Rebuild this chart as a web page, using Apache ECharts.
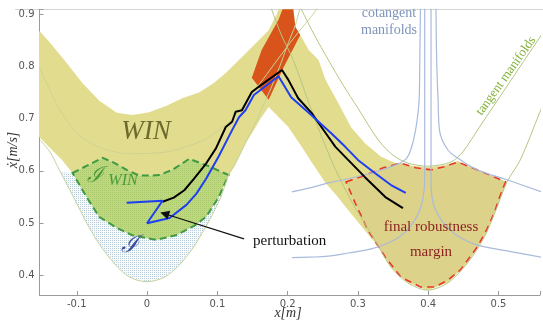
<!DOCTYPE html>
<html>
<head>
<meta charset="utf-8">
<script src="https://cdn.jsdelivr.net/npm/echarts@6/dist/echarts.min.js"></script>
<style>
  html, body { margin: 0; padding: 0; background: #fff; }
  #main { width: 543px; height: 325px; }
</style>
</head>
<body>
<div id="main"></div>
<script>
// tick labels
const xTicks = [-0.1, 0, 0.1, 0.2, 0.3, 0.4, 0.5];
const yTicks = [0.4, 0.5, 0.6, 0.7, 0.8, 0.9];

// regions, [x, xdot]
const winBand = [
  [-0.17, 0.875], [-0.152, 0.866], [-0.138, 0.845], [-0.114, 0.806], [-0.092, 0.768], [-0.068, 0.734],
  [-0.043, 0.711], [-0.021, 0.707], [0.003, 0.712], [0.027, 0.724], [0.050, 0.739], [0.074, 0.750],
  [0.095, 0.768], [0.112, 0.787], [0.135, 0.818], [0.159, 0.850], [0.173, 0.869], [0.184, 0.898], [0.191, 0.925],
  [0.207, 0.925], [0.211, 0.875], [0.218, 0.860], [0.230, 0.831], [0.244, 0.812], [0.254, 0.774], [0.272, 0.730],
  [0.290, 0.684], [0.310, 0.653], [0.333, 0.627], [0.353, 0.615], [0.371, 0.611], [0.399, 0.607], [0.423, 0.611],
  [0.442, 0.619], [0.477, 0.598], [0.512, 0.579],
  [0.498, 0.531], [0.480, 0.474], [0.456, 0.424], [0.428, 0.386], [0.399, 0.372], [0.371, 0.386], [0.347, 0.416],
  [0.329, 0.455], [0.307, 0.491], [0.286, 0.525], [0.269, 0.554], [0.254, 0.577], [0.237, 0.611], [0.220, 0.646],
  [0.201, 0.684], [0.187, 0.703], [0.173, 0.722],
  [0.162, 0.701], [0.152, 0.678], [0.140, 0.653], [0.131, 0.627], [0.124, 0.608], [0.116, 0.592],
  [0.102, 0.550], [0.084, 0.512], [0.067, 0.495], [0.041, 0.477], [0.013, 0.468], [-0.021, 0.477],
  [-0.043, 0.491], [-0.068, 0.512], [-0.086, 0.550], [-0.106, 0.596], [-0.121, 0.621], [-0.138, 0.644],
  [-0.152, 0.663], [-0.17, 0.68]
];
const iRegion = [
  [-0.124, 0.598], [-0.110, 0.564], [-0.096, 0.527], [-0.082, 0.491], [-0.068, 0.460], [-0.046, 0.422],
  [-0.025, 0.397], [0.0, 0.388], [0.025, 0.397], [0.046, 0.420], [0.067, 0.456], [0.088, 0.504],
  [0.105, 0.550], [0.116, 0.592],
  [0.088, 0.609], [0.060, 0.623], [0.036, 0.602], [0.017, 0.592], [0.003, 0.591], [-0.011, 0.591],
  [-0.029, 0.602], [-0.046, 0.615], [-0.063, 0.625], [-0.084, 0.611], [-0.106, 0.596]
];
const iWinRegion = [
  [-0.106, 0.596], [-0.084, 0.611], [-0.063, 0.625], [-0.046, 0.615], [-0.029, 0.602], [-0.011, 0.591],
  [0.003, 0.591], [0.017, 0.592], [0.036, 0.602], [0.060, 0.623], [0.088, 0.609], [0.116, 0.592],
  [0.102, 0.550], [0.084, 0.512], [0.067, 0.495], [0.041, 0.477], [0.013, 0.468], [-0.021, 0.477],
  [-0.043, 0.491], [-0.068, 0.512], [-0.086, 0.550]
];
const impactRegion = [
  [0.196, 0.921], [0.207, 0.921], [0.211, 0.875], [0.218, 0.860], [0.194, 0.797], [0.173, 0.736],
  [0.149, 0.778], [0.163, 0.831], [0.187, 0.889]
];
const finalMargin = [
  [0.283, 0.579], [0.307, 0.590], [0.336, 0.606], [0.361, 0.615], [0.382, 0.606], [0.404, 0.602],
  [0.423, 0.608], [0.442, 0.617], [0.477, 0.598], [0.510, 0.579], [0.501, 0.548], [0.494, 0.520],
  [0.483, 0.487], [0.470, 0.455], [0.446, 0.411], [0.428, 0.391], [0.409, 0.378], [0.389, 0.378],
  [0.361, 0.397], [0.339, 0.435], [0.314, 0.487], [0.296, 0.539]
];

// thin manifolds
const iBoundary = [
  [-0.152, 0.659], [-0.138, 0.636], [-0.124, 0.600], [-0.110, 0.564], [-0.096, 0.527], [-0.082, 0.491],
  [-0.068, 0.460], [-0.046, 0.422], [-0.025, 0.397], [0.0, 0.388], [0.025, 0.397], [0.046, 0.420],
  [0.067, 0.456], [0.088, 0.504], [0.105, 0.550], [0.116, 0.592], [0.126, 0.615], [0.140, 0.653],
  [0.155, 0.694], [0.167, 0.730], [0.180, 0.770], [0.191, 0.808], [0.201, 0.845], [0.211, 0.879],
  [0.217, 0.908], [0.220, 0.921]
];
const winGuide = [
  [-0.153, 0.799], [-0.124, 0.716], [-0.096, 0.668], [-0.068, 0.645], [-0.025, 0.633], [0.027, 0.636],
  [0.074, 0.655], [0.098, 0.674], [0.124, 0.703], [0.145, 0.740], [0.166, 0.777], [0.183, 0.808],
  [0.211, 0.858], [0.230, 0.889], [0.241, 0.908], [0.250, 0.925]
];
const lowTangent = [
  [0.174, 0.921], [0.191, 0.860], [0.208, 0.812], [0.234, 0.716], [0.262, 0.621], [0.290, 0.544],
  [0.324, 0.468], [0.347, 0.416], [0.371, 0.386], [0.399, 0.372], [0.428, 0.386], [0.456, 0.424],
  [0.480, 0.474], [0.498, 0.531], [0.512, 0.579], [0.531, 0.621], [0.559, 0.713], [0.569, 0.745]
];
const highTangent = [
  [0.215, 0.921], [0.238, 0.860], [0.258, 0.812], [0.279, 0.764], [0.300, 0.720], [0.329, 0.659],
  [0.350, 0.630], [0.371, 0.615], [0.399, 0.609], [0.423, 0.613], [0.435, 0.619], [0.449, 0.636],
  [0.474, 0.686], [0.512, 0.762], [0.559, 0.856], [0.576, 0.890]
];
const cotangent1 = [
  [0.389, 0.921], [0.388, 0.812], [0.387, 0.736], [0.382, 0.678], [0.375, 0.640], [0.367, 0.621],
  [0.347, 0.608], [0.319, 0.596], [0.286, 0.585], [0.258, 0.577], [0.230, 0.567], [0.206, 0.560]
];
const cotangent2 = [
  [0.411, 0.921], [0.412, 0.812], [0.414, 0.736], [0.416, 0.678], [0.428, 0.640], [0.446, 0.621],
  [0.470, 0.602], [0.512, 0.583], [0.565, 0.558]
];
const cotangent3 = [
  [0.395, 0.921], [0.395, 0.717], [0.395, 0.583], [0.392, 0.544], [0.385, 0.516], [0.374, 0.493],
  [0.361, 0.476], [0.343, 0.462], [0.319, 0.451], [0.286, 0.443], [0.258, 0.437], [0.230, 0.435], [0.206, 0.434]
];
const cotangent4 = [
  [0.404, 0.921], [0.404, 0.717], [0.404, 0.583], [0.406, 0.544], [0.414, 0.516], [0.428, 0.491],
  [0.446, 0.472], [0.470, 0.458], [0.512, 0.447], [0.565, 0.434]
];

// trajectories
const blackPath = [
  [0.022, 0.541], [0.038, 0.549], [0.053, 0.563], [0.066, 0.584], [0.084, 0.614], [0.098, 0.643],
  [0.112, 0.684], [0.121, 0.694], [0.126, 0.713], [0.135, 0.716], [0.149, 0.751], [0.162, 0.764],
  [0.192, 0.793], [0.201, 0.774], [0.215, 0.739], [0.234, 0.711], [0.248, 0.684], [0.268, 0.646],
  [0.286, 0.621], [0.310, 0.588], [0.339, 0.550], [0.364, 0.529]
];
const bluePath = [
  [-0.029, 0.539], [0.022, 0.543], [0.0, 0.500], [0.032, 0.510], [0.056, 0.535], [0.070, 0.556],
  [0.084, 0.585], [0.102, 0.628], [0.121, 0.678], [0.131, 0.703], [0.140, 0.716], [0.152, 0.745],
  [0.187, 0.781], [0.205, 0.741], [0.230, 0.711], [0.244, 0.694], [0.262, 0.672], [0.282, 0.646],
  [0.300, 0.621], [0.324, 0.596], [0.347, 0.573], [0.368, 0.558]
];
const perturbArrow = [[0.138, 0.470], [0.025, 0.518]];

function dots(bg, dot, step) {
  const c = document.createElement('canvas');
  c.width = step; c.height = step;
  const g = c.getContext('2d');
  g.fillStyle = bg; g.fillRect(0, 0, step, step);
  g.fillStyle = dot; g.fillRect(0, 0, 1, 1);
  return { image: c, repeat: 'repeat' };
}

function area(pts, style, z) {
  return {
    type: 'custom', silent: true, clip: true, z: z, data: pts,
    renderItem: function (params, api) {
      if (params.dataIndex !== 0) return null;
      return { type: 'polygon', shape: { points: pts.map(p => api.coord(p)) }, style: style };
    }
  };
}

function curve(pts, color, width, z, smooth) {
  return {
    type: 'line', data: pts, symbol: 'none', smooth: smooth, silent: true, z: z,
    lineStyle: { color: color, width: width }
  };
}

function onTick(list) {
  return v => list.some(t => Math.abs(t - v) < 1e-6) ? String(+v.toFixed(1)) : '';
}

const serif = '"Liberation Serif", "DejaVu Serif", serif';
function txt(x, y, text, font, fill, extra, align) {
  return Object.assign({
    type: 'text', x: x, y: y, z: 100, silent: true,
    style: { text: text, font: font, fill: fill, textAlign: align || 'center', textVerticalAlign: 'middle' }
  }, extra || {});
}

const axisCommon = {
  type: 'value', minInterval: 0.1, maxInterval: 0.1,
  splitLine: { show: false },
  axisLine: { onZero: false, lineStyle: { color: '#9a9a9a' } },
  axisTick: { inside: true, length: 4, lineStyle: { color: '#9a9a9a' } }
};

const chart = echarts.init(document.getElementById('main'));
chart.setOption({
  animation: false,
  grid: { left: 39.5, right: 0, top: 9.3, bottom: 30 },
  xAxis: Object.assign({}, axisCommon, {
    min: -0.153, max: 0.559,
    axisLabel: { color: '#555', fontSize: 10, fontFamily: 'DejaVu Sans', margin: 4, formatter: onTick(xTicks) }
  }),
  yAxis: Object.assign({}, axisCommon, {
    min: 0.3627, max: 0.909,
    axisLabel: { color: '#555', fontSize: 10, fontFamily: 'DejaVu Sans', margin: 5, formatter: onTick(yTicks) }
  }),
  series: [
    area(winBand, { fill: '#e2dc8e' }, 1),
    area(iRegion, { fill: dots('#f8fafb', '#b9ccda', 2) }, 2),
    area(iWinRegion, { fill: dots('#bfd780', '#aacb6c', 2), stroke: '#3f9a40', lineWidth: 2, lineDash: [7, 4] }, 3),
    area(finalMargin, { fill: '#ddd28a', stroke: '#e8382c', lineWidth: 1.6, lineDash: [7, 5] }, 3),
    area(impactRegion, { fill: '#d9541b' }, 4),
    curve(iBoundary, '#c3d29a', 1, 5, 0.3),
    curve(winGuide, '#ccd394', 1, 5, 0.3),
    curve(lowTangent, '#b4c682', 1, 5, 0.3),
    curve(highTangent, '#b4c682', 1, 5, 0.3),
    curve(cotangent1, '#a9badb', 1.2, 5, 0.4),
    curve(cotangent2, '#a9badb', 1.2, 5, 0.4),
    curve(cotangent3, '#a9badb', 1.2, 5, 0.4),
    curve(cotangent4, '#a9badb', 1.2, 5, 0.4),
    curve(blackPath, '#000', 2, 7, false),
    curve(bluePath, '#1e3ef2', 2, 8, false),
    {
      type: 'lines', coordinateSystem: 'cartesian2d', z: 9, silent: true,
      symbol: ['none', 'triangle'], symbolSize: [0, 9],
      lineStyle: { color: '#111', width: 1.2, opacity: 1 },
      data: [{ coords: perturbArrow }]
    }
  ],
  graphic: [
    { type: 'line', silent: true, shape: { x1: 15, y1: 9.5, x2: 543, y2: 9.5 }, style: { stroke: '#d4d4d4', lineWidth: 1 } },
    txt(146, 132, 'WIN', 'italic 27px ' + serif, '#6d6a2d'),
    txt(95, 176, 'ℐ', 'italic 22px ' + serif, '#4b9a3c'),
    txt(123, 181, 'WIN', 'italic 16px ' + serif, '#4b9a3c'),
    txt(130, 246, 'ℐ', 'italic 24px ' + serif, '#3b4ea0'),
    txt(253, 241, 'perturbation', '15px ' + serif, '#111', null, 'left'),
    txt(431, 227, 'final robustness', '15px ' + serif, '#8b1f1f'),
    txt(431, 252, 'margin', '15px ' + serif, '#8b1f1f'),
    txt(389, 13, 'cotangent', '14px ' + serif, '#7f94ba'),
    txt(389, 30, 'manifolds', '14px ' + serif, '#7f94ba'),
    txt(506, 76, 'tangent manifolds', '13px ' + serif, '#84b23a', { rotation: 0.95 }),
    txt(13, 150, 'ẋ[m/s]', 'italic 14px ' + serif, '#333', { rotation: Math.PI / 2 }),
    txt(288, 313, 'x[m]', 'italic 14px ' + serif, '#333')
  ]
});
</script>
</body>
</html>
